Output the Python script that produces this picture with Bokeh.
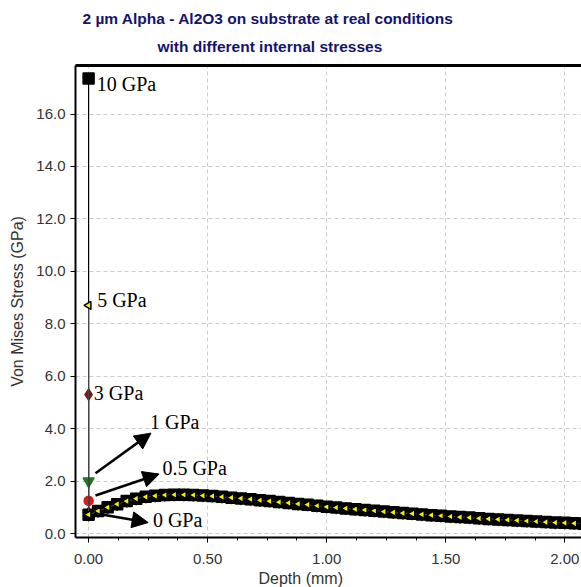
from bokeh.plotting import figure
from bokeh.models import (Range1d, SingleIntervalTicker, NumeralTickFormatter, LinearAxis,
                          Title, Arrow, NormalHead, ColumnDataSource, FixedTicker)
from bokeh.core.properties import value
from bokeh.embed import file_html
from bokeh.resources import INLINE

# ---- data ----
depth = [0.00, 0.04, 0.08, 0.12, 0.16, 0.20, 0.24, 0.28, 0.32, 0.36, 0.40, 0.44, 0.48,
         0.52, 0.56, 0.60, 0.64, 0.68, 0.72, 0.76, 0.80, 0.84, 0.88, 0.92, 0.96, 1.00,
         1.04, 1.08, 1.12, 1.16, 1.20, 1.24, 1.28, 1.32, 1.36, 1.40, 1.44, 1.48, 1.52,
         1.56, 1.60, 1.64, 1.68, 1.72, 1.76, 1.80, 1.84, 1.88, 1.92, 1.96, 2.00, 2.04, 2.08]
stress_base = [0.72, 0.86, 1.00, 1.12, 1.24, 1.33, 1.40, 1.44, 1.47, 1.48, 1.48, 1.47, 1.45,
               1.43, 1.40, 1.37, 1.34, 1.31, 1.27, 1.24, 1.20, 1.17, 1.13, 1.10, 1.06, 1.02,
               0.99, 0.96, 0.93, 0.90, 0.87, 0.84, 0.81, 0.78, 0.76, 0.73, 0.70, 0.68, 0.65,
               0.63, 0.61, 0.58, 0.56, 0.54, 0.52, 0.50, 0.48, 0.46, 0.44, 0.42, 0.41, 0.39, 0.37]

internal_stress = ["0 GPa", "0.5 GPa", "1 GPa", "3 GPa", "10 GPa", "5 GPa"]
surface_stress = [0.80, 1.25, 2.00, 5.30, 17.35, 8.70]
marker_types = ["triangle", "circle", "inverted_triangle", "diamond", "square", "triangle"]
marker_colors = ["#1c1c9c", "#e01818", "#1e7a1e", "#7a1a1a", "#000000", "#f5f000"]
marker_sizes = [9, 9, 11, 11, 11, 8]
marker_angles = [0, 0, 0, 0, 0, 1.5708]

label_texts = ["10 GPa", "5 GPa", "3 GPa", "1 GPa", "0.5 GPa", "0 GPa"]
label_x = [0.034, 0.036, 0.022, 0.258, 0.31, 0.27]
label_y = [17.15, 8.9, 5.35, 4.25, 2.5, 0.5]

arrow_x0 = [0.029, 0.029, 0.050]
arrow_y0 = [2.30, 1.45, 0.74]
arrow_x1 = [0.262, 0.296, 0.250]
arrow_y1 = [3.83, 2.27, 0.42]

title_lines = ["2 \u00b5m Alpha - Al2O3 on substrate at real conditions",
               "with different internal stresses"]

# ---- figure ----
p = figure(width=581, height=587, output_backend="svg", toolbar_location=None,
           x_range=Range1d(-0.055, 2.07), y_range=Range1d(-0.15, 17.85),
           min_border_left=75, min_border_right=0, min_border_top=65, min_border_bottom=10)
p.outline_line_color = None
p.background_fill_color = "white"
p.border_fill_color = "white"

tick_font = "Liberation Sans"
for ax in (p.xaxis[0], p.yaxis[0]):
    ax.axis_line_color = "black"
    ax.axis_line_width = 2
    ax.major_tick_line_color = "black"
    ax.minor_tick_line_color = "black"
    ax.major_tick_out = 5
    ax.major_tick_in = 0
    ax.minor_tick_out = 3
    ax.minor_tick_in = 0
    ax.major_label_text_font = tick_font
    ax.major_label_text_font_size = "15px"
    ax.major_label_text_color = "#333333"
    ax.axis_label_text_font = tick_font
    ax.axis_label_text_font_size = "16px"
    ax.axis_label_text_font_style = "normal"
    ax.axis_label_text_color = "#333333"

p.xaxis[0].ticker = SingleIntervalTicker(interval=0.5, num_minor_ticks=4)
p.xaxis[0].formatter = NumeralTickFormatter(format="0.00")
p.yaxis[0].ticker = SingleIntervalTicker(interval=2, num_minor_ticks=0)
p.yaxis[0].formatter = NumeralTickFormatter(format="0.0")
p.yaxis[0].axis_label = "Von Mises Stress (GPa)"
p.yaxis[0].axis_label_standoff = 7
p.xaxis[0].major_label_standoff = 11

# x label as a below title so that it can be offset
xt = Title(text="Depth (mm)", align="left", offset=183, text_font=tick_font,
           text_font_size="16px", text_font_style="normal", text_color="#333333",
           standoff=2)
p.add_layout(xt, "below")

top_axis = LinearAxis(ticker=FixedTicker(ticks=[]), major_tick_line_color=None,
                      minor_tick_line_color=None, axis_line_width=3,
                      axis_line_color="black")
p.add_layout(top_axis, "above")

# two-line chart title (second line is nearest the frame)
t2 = Title(text=title_lines[1], align="left", offset=82, vertical_align="top",
           text_font="Liberation Sans", text_font_size="15.5px",
           text_font_style="bold", text_color="#14146e", standoff=18)
p.add_layout(t2, "above")
t1 = Title(text=title_lines[0], align="left", offset=7,
           text_font="Liberation Sans", text_font_size="15.5px",
           text_font_style="bold", text_color="#14146e", standoff=4)
p.add_layout(t1, "above")

p.xgrid.grid_line_color = "#cccccc"
p.ygrid.grid_line_color = "#cccccc"
p.xgrid.grid_line_dash = "4 3"
p.ygrid.grid_line_dash = "4 3"

# ---- series ----
for name, s0, mk, col, sz, ang in zip(internal_stress, surface_stress, marker_types,
                                      marker_colors, marker_sizes, marker_angles):
    xs = [0.0] + depth
    ys = [s0] + stress_base
    src = ColumnDataSource(dict(x=xs, y=ys))
    p.line("x", "y", source=src, line_color="#444444" if col == "#f5f000" else col,
           line_width=1.2)
    p.scatter("x", "y", source=src, marker=mk, size=sz, fill_color=col,
              line_color="black" if col in ("#f5f000",) else col, line_width=1.5,
              angle=ang)

p.text(x=label_x, y=label_y, text=label_texts, text_font=value("Liberation Serif"),
       text_font_size="20px", text_baseline="middle", text_align="left", text_color="black")

for x0, y0, x1, y1 in zip(arrow_x0, arrow_y0, arrow_x1, arrow_y1):
    p.add_layout(Arrow(x_start=x0, y_start=y0, x_end=x1, y_end=y1, line_width=2.5,
                       line_color="black",
                       end=NormalHead(size=16, fill_color="black", line_color="black")))

open("out.html", "w").write(file_html(p, INLINE))
